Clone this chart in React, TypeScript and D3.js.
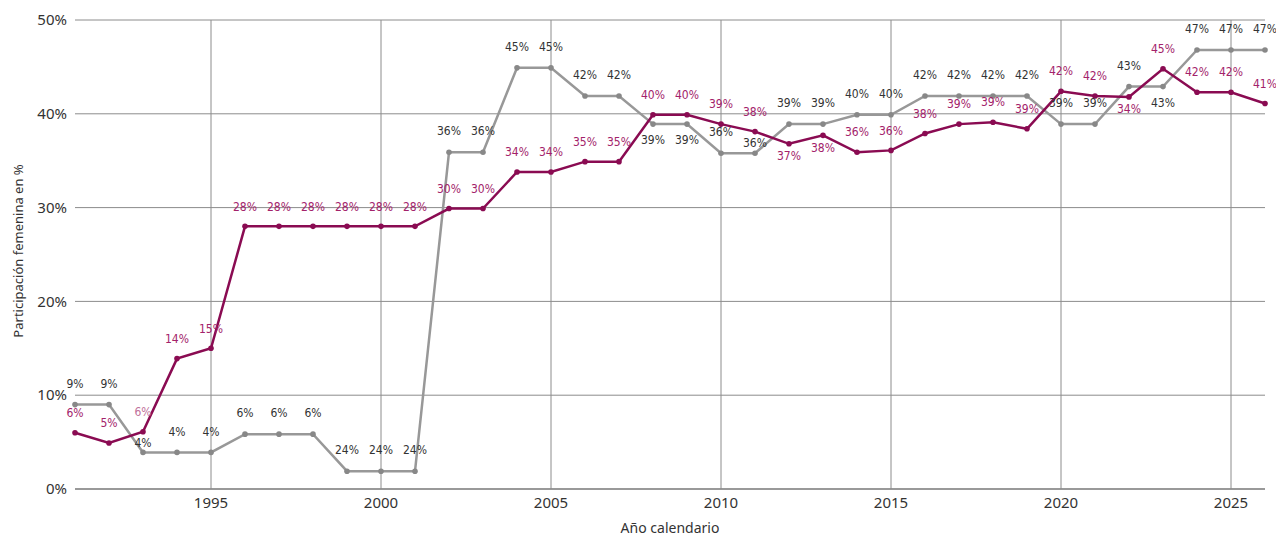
import React from "react";
import * as d3 from "d3";

const years: number[] = d3.range(1991, 2027);

const femaleShare: number[] = [
  6.0, 4.9, 6.1, 13.9, 15.0, 28.0, 28.0, 28.0, 28.0, 28.0, 28.0,
  29.9, 29.9, 33.8, 33.8, 34.9, 34.9, 39.9, 39.9, 38.9, 38.1, 36.8, 37.7,
  35.9, 36.1, 37.9, 38.9, 39.1, 38.4, 42.4, 41.9, 41.8, 44.8, 42.3, 42.3, 41.1,
];
const femaleLabels: string[] = [
  "6%", "5%", "6%", "14%", "15%", "28%", "28%", "28%", "28%", "28%", "28%",
  "30%", "30%", "34%", "34%", "35%", "35%", "40%", "40%", "39%", "38%", "37%", "38%",
  "36%", "36%", "38%", "39%", "39%", "39%", "42%", "42%", "34%", "45%", "42%", "42%", "41%",
];
const femalePlace: string[] = [
  "a", "a", "a", "a", "a", "a", "a", "a", "a", "a", "a",
  "a", "a", "a", "a", "a", "a", "a", "a", "a", "a", "b", "b",
  "a", "a", "a", "a", "a", "a", "a", "a", "b", "a", "a", "a", "a",
];

const greyShare: number[] = [
  9.0, 9.0, 3.9, 3.9, 3.9, 5.85, 5.85, 5.85, 1.9, 1.9, 1.9,
  35.9, 35.9, 44.9, 44.9, 41.9, 41.9, 38.9, 38.9, 35.8, 35.8, 38.9, 38.9,
  39.9, 39.9, 41.9, 41.9, 41.9, 41.9, 38.9, 38.9, 42.9, 42.9, 46.8, 46.8, 46.8,
];
const greyLabels: string[] = [
  "9%", "9%", "4%", "4%", "4%", "6%", "6%", "6%", "24%", "24%", "24%",
  "36%", "36%", "45%", "45%", "42%", "42%", "39%", "39%", "36%", "36%", "39%", "39%",
  "40%", "40%", "42%", "42%", "42%", "42%", "39%", "39%", "43%", "43%", "47%", "47%", "47%",
];
const greyPlace: string[] = [
  "a", "a", "n", "a", "a", "a", "a", "a", "a", "a", "a",
  "a", "a", "a", "a", "a", "a", "b", "b", "a", "n", "a", "a",
  "a", "a", "a", "a", "a", "a", "a", "a", "a", "b", "a", "a", "a",
];

const yTicks: number[] = [0, 10, 20, 30, 40, 50];
const xTicks: number[] = [1995, 2000, 2005, 2010, 2015, 2020, 2025];

const W = 1276;
const H = 537;
const M = { left: 75, right: 11, top: 20, bottom: 48 };

const MAGENTA = "#8a0b52";
const MAGENTA_TXT = "#a3226a";
const GREY = "#989898";
const GRID = "#8c8c8c";

const offsetFor = (p: string, above: number, near: number, below: number) =>
  p === "a" ? above : p === "n" ? near : below;

export default function App() {
  const x = d3.scaleLinear().domain([1991, 2026]).range([M.left, W - M.right]);
  const y = d3.scaleLinear().domain([0, 50]).range([H - M.bottom, M.top]);
  const line = d3
    .line<number>()
    .x((_, i) => x(years[i]))
    .y((d) => y(d));

  const labelFont = "'Liberation Sans Narrow', 'DejaVu Sans Condensed', sans-serif";
  const axisFont = "'Noto Sans', 'Open Sans', sans-serif";

  return (
    <svg
      width={W}
      height={H}
      style={{ position: "absolute", left: 0, top: 0, background: "#fff" }}
    >
      {yTicks.map((t) => (
        <line
          key={"h" + t}
          x1={x(1991)}
          x2={x(2026)}
          y1={y(t)}
          y2={y(t)}
          stroke={t === 0 ? "#777" : GRID}
          strokeWidth={t === 0 ? 1.5 : 1}
        />
      ))}
      {xTicks.map((t) => (
        <line
          key={"v" + t}
          x1={x(t)}
          x2={x(t)}
          y1={y(50)}
          y2={y(0)}
          stroke={GRID}
          strokeWidth={1}
        />
      ))}
      {yTicks.map((t) => (
        <text
          key={"yl" + t}
          x={M.left - 8}
          y={y(t)}
          dy="0.35em"
          textAnchor="end"
          fontFamily={axisFont}
          fontSize={15}
          fill="#333"
        >
          {t + "%"}
        </text>
      ))}
      {xTicks.map((t) => (
        <text
          key={"xl" + t}
          x={x(t)}
          y={y(0) + 14}
          dy="0.35em"
          textAnchor="middle"
          fontFamily={axisFont}
          fontSize={15}
          fill="#333"
        >
          {t}
        </text>
      ))}
      <text
        x={(x(1991) + x(2026)) / 2}
        y={528}
        dy="0.35em"
        textAnchor="middle"
        fontFamily={axisFont}
        fontSize={14}
        fill="#333"
      >
        Año calendario
      </text>
      <text
        transform={`translate(18,251) rotate(-90)`}
        dy="0.35em"
        textAnchor="middle"
        fontFamily={axisFont}
        fontSize={13}
        fill="#333"
      >
        Participación femenina en %
      </text>

      <path d={line(greyShare) || ""} fill="none" stroke={GREY} strokeWidth={2.5} />
      {greyShare.map((v, i) => (
        <circle key={"gc" + i} cx={x(years[i])} cy={y(v)} r={2.8} fill="#888" />
      ))}
      <path d={line(femaleShare) || ""} fill="none" stroke={MAGENTA} strokeWidth={2.5} />
      {femaleShare.map((v, i) => (
        <circle key={"mc" + i} cx={x(years[i])} cy={y(v)} r={2.8} fill={MAGENTA} />
      ))}

      {greyShare.map((v, i) => (
        <text
          key={"gl" + i}
          x={x(years[i])}
          y={y(v) + offsetFor(greyPlace[i], -21, -10, 16)}
          dy="0.35em"
          textAnchor="middle"
          fontFamily={labelFont}
          fontSize={12}
          fill="#333"
        >
          {greyLabels[i]}
        </text>
      ))}
      {femaleShare.map((v, i) => (
        <text
          key={"ml" + i}
          x={x(years[i])}
          y={y(v) + offsetFor(femalePlace[i], -20, -10, 12)}
          dy="0.35em"
          textAnchor="middle"
          fontFamily={labelFont}
          fontSize={12}
          fill={i === 2 ? "#c0709a" : MAGENTA_TXT}
        >
          {femaleLabels[i]}
        </text>
      ))}
    </svg>
  );
}
